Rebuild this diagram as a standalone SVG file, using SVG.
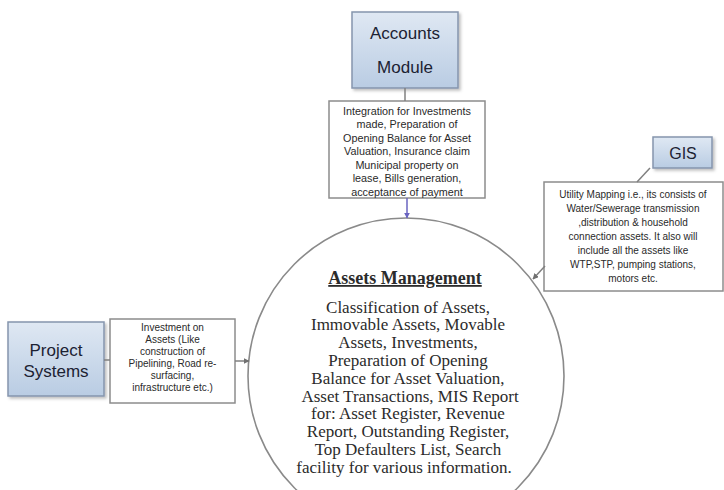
<svg xmlns="http://www.w3.org/2000/svg" width="724" height="490" viewBox="0 0 724 490">
<style>
.box{fill:url(#blue);stroke:#8595ad;stroke-width:1.5;filter:url(#sh)}
.boxt{font-family:"Liberation Sans",Arial,sans-serif;fill:#1c2233;text-anchor:middle}
.call{fill:#fff;stroke:#8c8c8c;stroke-width:1.5}
.ct{font-family:"Liberation Sans",Arial,sans-serif;fill:#2a2a2a;text-anchor:middle}
.circ{fill:#fff;stroke:#8a8a8a;stroke-width:1.6}
.mt{font-family:"Liberation Serif","Times New Roman",serif;fill:#2b2b2b;text-anchor:middle;font-size:17px}
.con{stroke:#808080;stroke-width:1.5;fill:none}
</style>
<defs>
<linearGradient id="blue" x1="0" y1="0" x2="0" y2="1">
<stop offset="0" stop-color="#dfe8f3"/>
<stop offset="1" stop-color="#b9cce3"/>
</linearGradient>
<filter id="sh" x="-10%" y="-10%" width="130%" height="130%">
<feDropShadow dx="2" dy="2" stdDeviation="1.5" flood-color="#000" flood-opacity="0.25"/>
</filter>
<marker id="arr" viewBox="0 0 10 10" refX="9" refY="5" markerWidth="6" markerHeight="6" markerUnits="userSpaceOnUse" orient="auto">
<path d="M0,0 L10,5 L0,10 z" fill="context-stroke"/>
</marker>
<marker id="arrP" viewBox="0 0 10 10" refX="9" refY="5" markerWidth="6" markerHeight="6" markerUnits="userSpaceOnUse" orient="auto">
<path d="M0,0 L10,5 L0,10 z" fill="#6a64c0"/>
</marker>
<marker id="arrG" viewBox="0 0 10 10" refX="9" refY="5" markerWidth="6" markerHeight="6" markerUnits="userSpaceOnUse" orient="auto">
<path d="M0,0 L10,5 L0,10 z" fill="#707070"/>
</marker>
</defs>
<rect width="724" height="490" fill="#fff"/>

<g id="assets-management">
<circle class="circ" cx="406" cy="376" r="158"/>
<text x="405" y="284" font-family="'Liberation Serif','Times New Roman',serif" font-weight="bold" font-size="18" fill="#2b2b2b" text-anchor="middle" text-decoration="underline">Assets Management</text>
<text class="mt" x="408" y="312.5">Classification of Assets,</text>
<text class="mt" x="408" y="330.3">Immovable Assets, Movable</text>
<text class="mt" x="408" y="348.1">Assets, Investments,</text>
<text class="mt" x="408" y="365.9">Preparation of Opening</text>
<text class="mt" x="408" y="383.7">Balance for Asset Valuation,</text>
<text class="mt" x="410" y="401.5">Asset Transactions, MIS Report</text>
<text class="mt" x="408" y="419.3">for: Asset Register, Revenue</text>
<text class="mt" x="408" y="437.1">Report, Outstanding Register,</text>
<text class="mt" x="408" y="454.9">Top Defaulters List, Search</text>
<text class="mt" x="404" y="472.7">facility for various information.</text>
</g>

<g id="accounts-module">
<rect class="box" x="352" y="12" width="106" height="76"/>
<text class="boxt" x="405" y="39" font-size="17">Accounts</text>
<text class="boxt" x="405" y="73" font-size="17">Module</text>
</g>

<g id="accounts-callout">
<rect class="call" x="329" y="101" width="156" height="97"/>
<text class="ct" x="407" y="114.8" font-size="10.8">Integration for Investments</text>
<text class="ct" x="407" y="128.3" font-size="10.8">made, Preparation of</text>
<text class="ct" x="407" y="141.7" font-size="10.8">Opening Balance for Asset</text>
<text class="ct" x="407" y="155.2" font-size="10.8">Valuation,  Insurance claim</text>
<text class="ct" x="407" y="168.6" font-size="10.8">Municipal property on</text>
<text class="ct" x="407" y="182.1" font-size="10.8">lease, Bills generation,</text>
<text class="ct" x="407" y="195.5" font-size="10.8">acceptance of payment</text>
</g>

<g id="gis-callout">
<rect class="call" x="544" y="182" width="179" height="109"/>
<text class="ct" x="633" y="197.5" font-size="10">Utility Mapping i.e.,  its consists of</text>
<text class="ct" x="633" y="211.5" font-size="10">Water/Sewerage transmission</text>
<text class="ct" x="633" y="225.5" font-size="10">,distribution &amp; household</text>
<text class="ct" x="633" y="239.5" font-size="10">connection assets. It also will</text>
<text class="ct" x="633" y="253.5" font-size="10">include all the assets like</text>
<text class="ct" x="633" y="267.5" font-size="10">WTP,STP, pumping stations,</text>
<text class="ct" x="633" y="281.5" font-size="10">motors etc.</text>
</g>

<g id="gis">
<rect class="box" x="653" y="137" width="59" height="31"/>
<text class="boxt" x="683" y="159" font-size="16">GIS</text>
</g>

<g id="project-callout">
<rect class="call" x="110" y="319" width="125" height="84"/>
<text class="ct" x="172.5" y="330.5" font-size="10">Investment on</text>
<text class="ct" x="172.5" y="342.5" font-size="10">Assets (Like</text>
<text class="ct" x="172.5" y="354.5" font-size="10">construction of</text>
<text class="ct" x="172.5" y="366.5" font-size="10">Pipelining, Road re-</text>
<text class="ct" x="172.5" y="378.5" font-size="10">surfacing,</text>
<text class="ct" x="172.5" y="390.5" font-size="10">infrastructure  etc.)</text>
</g>

<g id="project-systems">
<rect class="box" x="8" y="322" width="96" height="74"/>
<text class="boxt" x="56" y="356" font-size="17">Project</text>
<text class="boxt" x="56" y="377" font-size="17">Systems</text>
</g>

<g id="connectors">
<line class="con" x1="405" y1="88" x2="405" y2="101"/>
<line x1="407" y1="198" x2="407" y2="218" stroke="#6a64c0" stroke-width="1.5" marker-end="url(#arrP)"/>
<line class="con" x1="650" y1="168" x2="637" y2="182"/>
<line class="con" x1="545" y1="266" x2="533" y2="279" marker-end="url(#arrG)"/>
<line class="con" x1="104" y1="360" x2="110" y2="360"/>
<line class="con" x1="235" y1="361" x2="249" y2="361" marker-end="url(#arrG)"/>
</g>
</svg>
